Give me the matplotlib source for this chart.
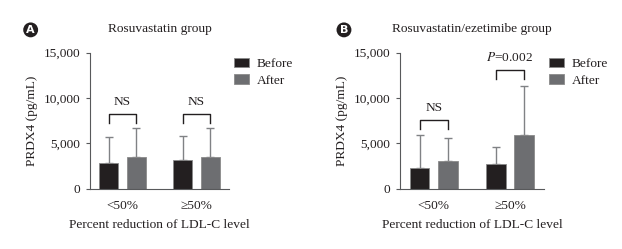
import matplotlib.pyplot as plt
import numpy as np

plt.rcParams['font.family'] = ['Liberation Serif', 'DejaVu Serif']
plt.rcParams['mathtext.fontset'] = 'stix'

groups = ['<50%', '\u226550%']
series = ['Before', 'After']

# Rosuvastatin group (A)
a_mean = {'Before': [2870, 3130], 'After': [3500, 3500]}
a_sd = {'Before': [2830, 2680], 'After': [3190, 3190]}
a_sig = ['NS', 'NS']
a_bracket = [8240, 8240]

# Rosuvastatin/ezetimibe group (B)
b_mean = {'Before': [2320, 2690], 'After': [3060, 5920]}
b_sd = {'Before': [3600, 1940], 'After': [2570, 5410]}
b_sig = ['NS', '$P$=0.002']
b_bracket = [7540, 13090]

colors = {'Before': '#231f20', 'After': '#6d6e71'}
offsets = {'Before': -0.186, 'After': 0.186}
axcol = '#58595b'
fs = 9.6

fig = plt.figure(figsize=(6.22, 2.49), dpi=100)
ax1 = fig.add_axes([0.1447, 0.2422, 0.2235, 0.5462])
ax2 = fig.add_axes([0.6436, 0.2422, 0.2305, 0.5462])


def panel(ax, mean, sd, sig, bracket, title, letter, lx):
    x = np.arange(len(groups))
    for s in series:
        ax.bar(x + offsets[s], mean[s], width=0.257, color=colors[s],
               edgecolor='#8a8a8a', linewidth=0.6, label=s, zorder=2)
        ax.errorbar(x + offsets[s], mean[s], yerr=[np.zeros(len(groups)), sd[s]],
                    fmt='none', ecolor='#808285', elinewidth=1.0, capsize=3,
                    capthick=1.0, zorder=1)
    for i in range(len(groups)):
        x0, x1 = x[i] + offsets['Before'], x[i] + offsets['After']
        y = bracket[i]
        ax.plot([x0, x0, x1, x1], [y - 1000, y, y, y - 1000],
                color='#231f20', lw=1.0, clip_on=False)
        ax.text(x[i], y + 700, sig[i], ha='center', va='bottom', fontsize=fs,
                color='#231f20')
    ax.set_xlim(-0.44, 1.443)
    ax.set_ylim(0, 15000)
    ax.set_yticks([0, 5000, 10000, 15000])
    ax.set_yticklabels(['0', '5,000', '10,000', '15,000'])
    ax.set_xticks(x)
    ax.set_xticklabels(groups)
    ax.tick_params(axis='x', length=0, pad=8, labelsize=fs, colors='#231f20')
    ax.tick_params(axis='y', length=3, width=0.8, color=axcol, labelsize=fs,
                   labelcolor='#231f20', pad=4)
    for sp in ['top', 'right']:
        ax.spines[sp].set_visible(False)
    for sp in ['left', 'bottom']:
        ax.spines[sp].set_color(axcol)
        ax.spines[sp].set_linewidth(0.8)
    ax.set_ylabel('PRDX4 (pg/mL)', fontsize=fs, color='#231f20', labelpad=4)
    ax.set_xlabel('Percent reduction of LDL-C level', fontsize=fs,
                  color='#231f20', labelpad=5)
    ax.set_title(title, fontsize=fs, color='#231f20', pad=15)
    leg = ax.legend(loc='upper left', bbox_to_anchor=(1.0, 1.0), frameon=False,
                    fontsize=fs, handlelength=1.1, handleheight=0.7,
                    handletextpad=0.6, labelspacing=0.3, borderaxespad=0)
    for t in leg.get_texts():
        t.set_color('#231f20')
    fig.text(lx, 0.88, letter, ha='center', va='center', color='white',
             fontsize=8, fontweight='bold', family='DejaVu Sans',
             bbox=dict(boxstyle='circle,pad=0.22', fc='#231f20', ec='none'))


panel(ax1, a_mean, a_sd, a_sig, a_bracket, 'Rosuvastatin group', 'A', 0.0493)
panel(ax2, b_mean, b_sd, b_sig, b_bracket, 'Rosuvastatin/ezetimibe group', 'B', 0.553)

fig.savefig('out.png', dpi=100)
